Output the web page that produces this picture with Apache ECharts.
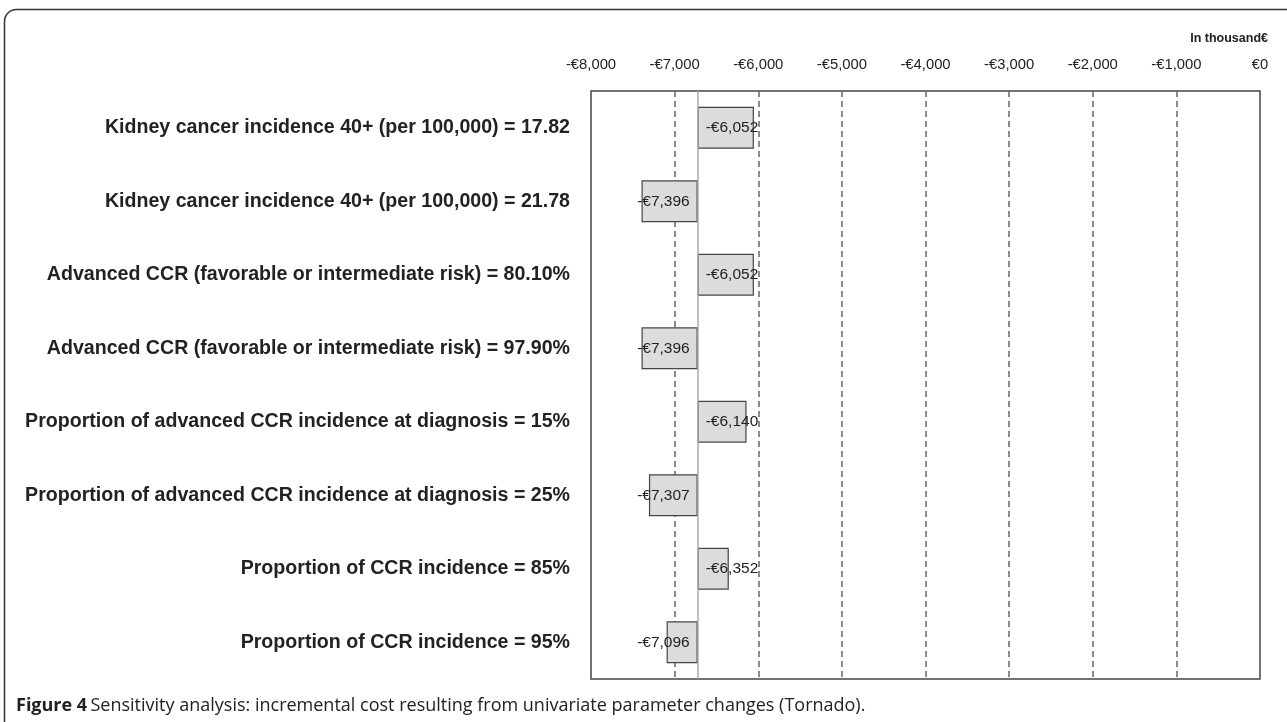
<!DOCTYPE html>
<html>
<head>
<meta charset="utf-8">
<script src="https://cdn.jsdelivr.net/npm/echarts@6/dist/echarts.min.js"></script>
<style>
html,body{margin:0;padding:0;background:#fff;}
#c{width:1287px;height:722px;}
</style>
</head>
<body>
<div id="c"></div>
<script>
const categories = [
  'Kidney cancer incidence 40+ (per 100,000) = 17.82',
  'Kidney cancer incidence 40+ (per 100,000) = 21.78',
  'Advanced CCR (favorable or intermediate risk) = 80.10%',
  'Advanced CCR (favorable or intermediate risk) = 97.90%',
  'Proportion of advanced CCR incidence at diagnosis = 15%',
  'Proportion of advanced CCR incidence at diagnosis = 25%',
  'Proportion of CCR incidence = 85%',
  'Proportion of CCR incidence = 95%'
];
const values = [-6052, -7396, -6052, -7396, -6140, -7307, -6352, -7096];
const baseValue = -6724;
const axisMin = -8000;
const axisMax = 0;
const axisInterval = 1000;

function fmtEuro(v) {
  const s = Math.abs(v).toLocaleString('en-US');
  return (v < 0 ? '-' : '') + '€' + s;
}

const offsetData = values.map(v => Math.max(v, baseValue));
const barData = values.map(v => ({
  value: -Math.abs(v - baseValue),
  orig: v,
  label: { position: v > baseValue ? 'insideLeft' : 'insideRight' }
}));

const chart = echarts.init(document.getElementById('c'));
chart.setOption({
  animation: false,
  backgroundColor: '#fff',
  grid: { left: 591, right: 27, top: 91, bottom: 43, show: true, borderColor: '#444', borderWidth: 1.5, backgroundColor: 'transparent' },
  xAxis: {
    type: 'value', position: 'top', min: axisMin, max: axisMax, interval: axisInterval,
    axisLine: { show: false }, axisTick: { show: false },
    axisLabel: { formatter: fmtEuro, color: '#222', fontSize: 14.8, fontFamily: 'Liberation Sans', margin: 19 },
    splitLine: { show: true, showMinLine: false, showMaxLine: false, lineStyle: { color: '#666', type: [6, 4], width: 1.5 } }
  },
  yAxis: {
    type: 'category', inverse: true, data: categories,
    axisLine: { show: false }, axisTick: { show: false },
    axisLabel: { color: '#222', fontSize: 19.6, fontWeight: 'bold', fontFamily: 'Liberation Sans', margin: 21 }
  },
  series: [
    {
      type: 'bar', stack: 'a', data: offsetData, barWidth: '57%',
      itemStyle: { color: 'transparent' }, silent: true
    },
    {
      type: 'bar', stack: 'a', data: barData, barWidth: '57%',
      itemStyle: { color: '#dcdcdc', borderColor: '#444', borderWidth: 1.2 },
      label: {
        show: true, color: '#222', fontSize: 15.5, fontFamily: 'Liberation Sans', distance: 8,
        formatter: p => fmtEuro(p.data.orig)
      },
      markLine: {
        silent: true, symbol: 'none', label: { show: false },
        lineStyle: { color: '#aaa', type: 'solid', width: 1.5 },
        data: [{ xAxis: baseValue }]
      },
      z: 3
    }
  ],
  graphic: [
    { type: 'rect', shape: { x: 4.5, y: 9.5, width: 1300, height: 760, r: 12 }, style: { fill: 'none', stroke: '#333', lineWidth: 1.5 }, silent: true },
    { type: 'text', right: 19, top: 32, style: { text: 'In thousand€', fill: '#222', font: 'bold 12.5px "Liberation Sans"' } },
    { type: 'text', left: 16, top: 697, style: {
        rich: {
          b: { font: 'bold 18px "Open Sans"', fill: '#222' },
          n: { font: '18px "Open Sans"', fill: '#222' }
        },
        text: '{b|Figure 4} {n|Sensitivity analysis: incremental cost resulting from univariate parameter changes (Tornado).}'
      } }
  ]
});
</script>
</body>
</html>
